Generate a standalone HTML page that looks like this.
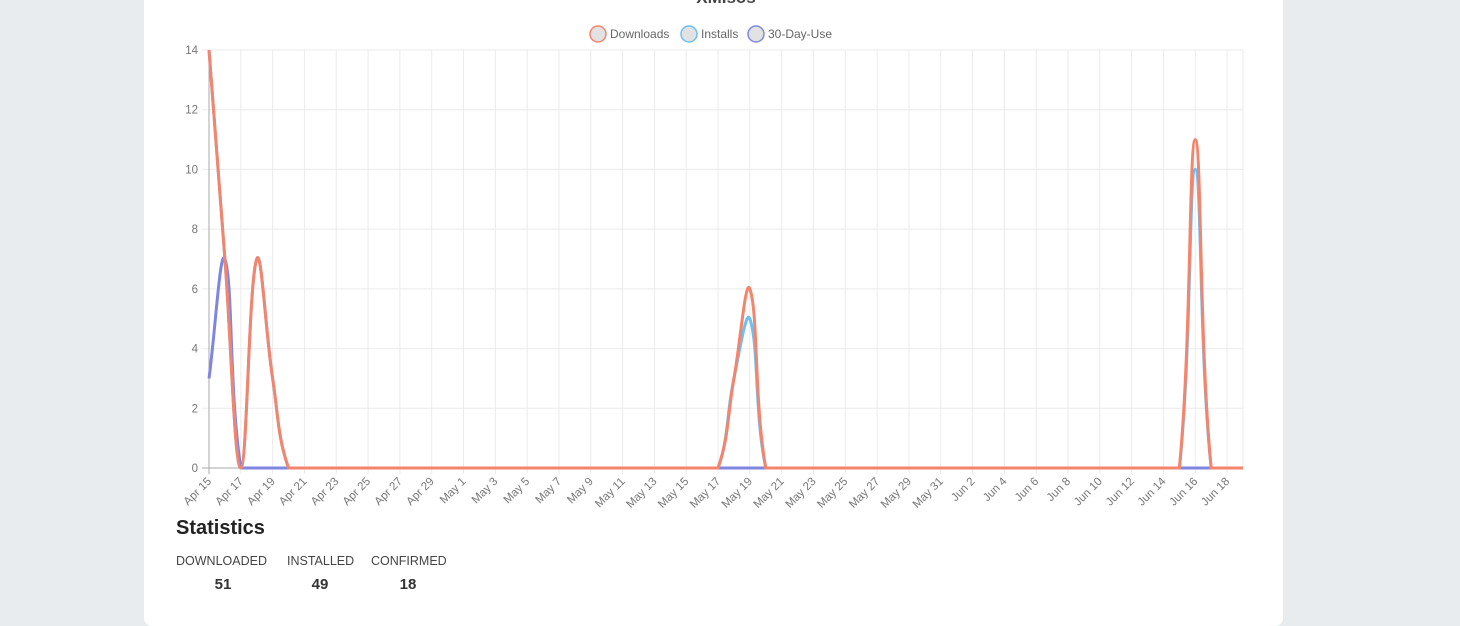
<!DOCTYPE html>
<html><head><meta charset="utf-8"><style>
html,body{margin:0;padding:0;background:#e9ecef;width:1460px;height:626px;overflow:hidden;font-family:"Liberation Sans",sans-serif}
.card{position:absolute;left:144px;top:-20px;width:1139px;height:646px;background:#fff;border-radius:8px}
</style></head><body>
<div class="card"></div>
<svg id="s" width="1460" height="626" style="position:absolute;left:0;top:0" font-family="Liberation Sans, sans-serif">
<text x="726" y="3" text-anchor="middle" font-size="17" font-weight="bold" fill="#444">XMIsos</text>
<g font-size="12" fill="#666">
<circle cx="598" cy="34" r="8" fill="#e2e2e2" stroke="#f4846c" stroke-width="1.5"/><text x="610" y="38">Downloads</text>
<circle cx="689" cy="34" r="8" fill="#e2e2e2" stroke="#6cc0f4" stroke-width="1.5"/><text x="701" y="38">Installs</text>
<circle cx="756" cy="34" r="8" fill="#e2e2e2" stroke="#8088e0" stroke-width="1.5"/><text x="768" y="38">30-Day-Use</text>
</g>
<g id="grid"></g><g id="lines" fill="none" stroke-width="3" stroke-linejoin="round"></g>
<text x="176" y="534" font-size="20" font-weight="bold" fill="#222">Statistics</text>
<g font-size="12.5" fill="#444"><text x="176" y="565">DOWNLOADED</text><text x="287" y="565">INSTALLED</text><text x="371" y="565">CONFIRMED</text></g>
<g font-size="15" font-weight="bold" fill="#333" text-anchor="middle"><text x="223" y="589">51</text><text x="320" y="589">49</text><text x="408" y="589">18</text></g>
</svg>
<script>
var ns="http://www.w3.org/2000/svg",g=document.getElementById('grid'),L=document.getElementById('lines');
function el(p,t,a,tx){var e=document.createElementNS(ns,t);for(var k in a)e.setAttribute(k,a[k]);if(tx!=null)e.textContent=tx;p.appendChild(e);return e;}
var x0=209,x1=1243,y0=468,y1=50,N=65,dx=(x1-x0)/N,dy=(y0-y1)/14;
for(var v=0;v<=14;v+=2){var y=y0-v*dy;el(g,'line',{x1:202,x2:x1,y1:y,y2:y,stroke:v==0?'#aaa':'#ebebeb'});el(g,'text',{x:198,y:y+4,'text-anchor':'end','font-size':11.5,fill:'#777'},v);}
var months=[['Apr',15,30],['May',1,31],['Jun',1,30]],labels=[];
for(var m=0;m<3;m++){var s=m==0?15:1;for(var d=s;d<=months[m][2];d++)labels.push(months[m][0]+' '+d);}
for(var i=0;i<=N;i+=2){var x=x0+i*dx;el(g,'line',{x1:x,x2:x,y1:y1,y2:y0+6,stroke:i==0?'#aaa':'#ebebeb'});
el(g,'text',{x:0,y:0,'text-anchor':'end','font-size':11.5,fill:'#777',transform:'translate('+(x+3)+','+(y0+14)+') rotate(-45)'},labels[i]);}
el(g,'line',{x1:x1,x2:x1,y1:y1,y2:y0,stroke:'#ebebeb'});
function arr(o){var a=[];for(var i=0;i<=N;i++)a.push(o[i]||0);return a;}
var dl=arr({0:14,1:7,3:7,4:3,33:3,34:6,62:11}),ins=arr({0:14,1:7,3:7,4:3,33:3,34:5,62:10}),use=arr({0:3,1:7});
function path(d){var p=d.map(function(v,i){return[x0+i*dx,y0-v*dy]}),s='M'+p[0][0]+','+p[0][1],t=0.4;
for(var i=0;i<p.length-1;i++){var a=p[Math.max(i-1,0)],b=p[i],c=p[i+1],e=p[Math.min(i+2,p.length-1)];
function cp(pr,cu,nx,sign){var d01=Math.hypot(cu[0]-pr[0],cu[1]-pr[1]),d12=Math.hypot(nx[0]-cu[0],nx[1]-cu[1]),fa=d01/(d01+d12)||0,fb=d12/(d01+d12)||0;fa*=t;fb*=t;
return sign<0?[cu[0]-fa*(nx[0]-pr[0]),cu[1]-fa*(nx[1]-pr[1])]:[cu[0]+fb*(nx[0]-pr[0]),cu[1]+fb*(nx[1]-pr[1])];}
var c1=cp(a,b,c,1),c2=cp(b,c,e,-1);c1[1]=Math.min(Math.max(c1[1],y1),y0);c2[1]=Math.min(Math.max(c2[1],y1),y0);
s+=' C'+c1[0]+','+c1[1]+' '+c2[0]+','+c2[1]+' '+c[0]+','+c[1];}return s;}
el(L,'path',{d:path(use),stroke:'#7f86e0'});el(L,'path',{d:path(ins),stroke:'#6cc0f4'});el(L,'path',{d:path(dl),stroke:'#f4846c'});
</script>
</body></html>
